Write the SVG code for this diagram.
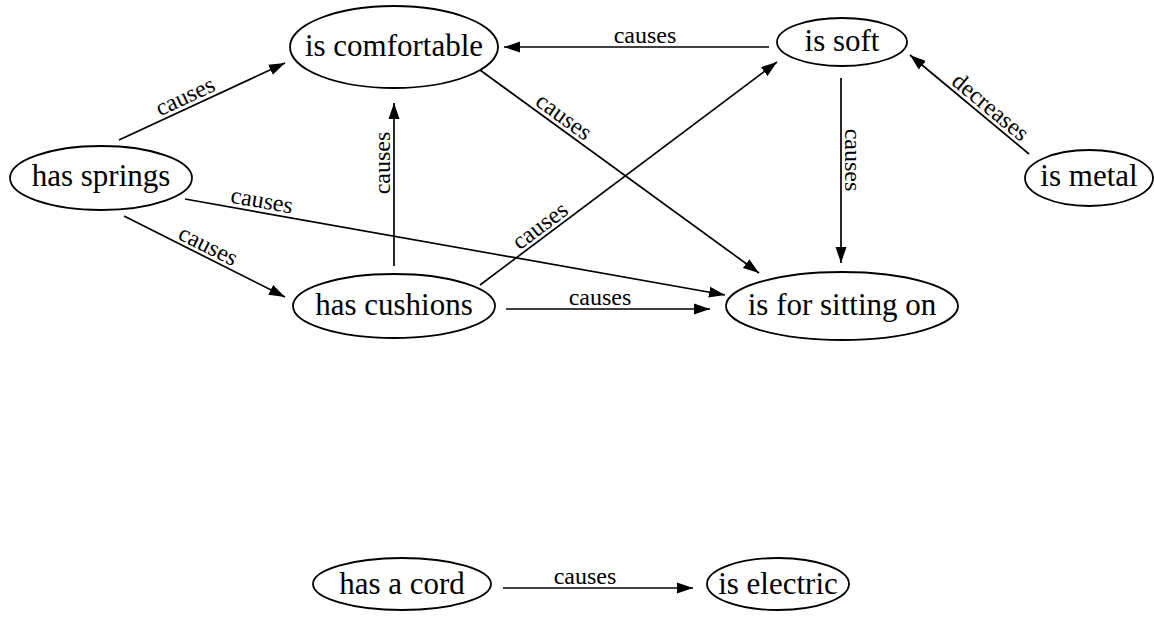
<svg xmlns="http://www.w3.org/2000/svg" width="1154" height="619" viewBox="0 0 1154 619">
<style>
.node ellipse{fill:#fff;stroke:#000;stroke-width:1.8}
.node text{font-family:"Liberation Serif","Times New Roman",serif;font-size:31px;text-anchor:middle;fill:#000}
.edges line{stroke:#000;stroke-width:1.7;marker-end:url(#arr)}
.edges text{font-family:"Liberation Serif","Times New Roman",serif;font-size:24px;text-anchor:middle;fill:#000}
</style>
<defs>
<marker id="arr" markerUnits="userSpaceOnUse" markerWidth="17" markerHeight="12" refX="16" refY="5.5" orient="auto" viewBox="0 0 17 11">
<path d="M0,0 L16,5.5 L0,11 z" fill="#000"/>
</marker>
</defs>
<rect width="1154" height="619" fill="#fff"/>
<g class="edges" id="edges">
<line x1="119" y1="140" x2="285" y2="63"/>
<text transform="translate(190,107) rotate(-24.9)" y="-4">causes</text>
<line x1="185" y1="199" x2="725" y2="295"/>
<text transform="translate(260,212) rotate(10.1)" y="-4">causes</text>
<line x1="124" y1="216" x2="285" y2="297"/>
<text transform="translate(203,256) rotate(26.7)" y="-4">causes</text>
<line x1="394" y1="266" x2="394" y2="103"/>
<text transform="translate(394,163) rotate(-90)" y="-4">causes</text>
<line x1="506" y1="309" x2="710" y2="309"/>
<text transform="translate(600,309)" y="-4">causes</text>
<line x1="480" y1="285" x2="777" y2="62"/>
<text transform="translate(547,235) rotate(-36.9)" y="-4">causes</text>
<line x1="480" y1="70" x2="759" y2="273"/>
<text transform="translate(557,126) rotate(36)" y="-4">causes</text>
<line x1="769" y1="47" x2="504" y2="47"/>
<text transform="translate(645,47)" y="-4">causes</text>
<line x1="841" y1="78" x2="841" y2="263"/>
<text transform="translate(841,160) rotate(90)" y="-4">causes</text>
<line x1="1029" y1="154" x2="910" y2="55"/>
<text transform="translate(983,116) rotate(39.8)" y="-4">decreases</text>
<line x1="503" y1="588" x2="693" y2="588"/>
<text transform="translate(585,588)" y="-4">causes</text>
</g>
<g class="node" id="is_comfortable"><ellipse cx="394" cy="47" rx="104" ry="41"/><text x="394" y="56">is comfortable</text></g>
<g class="node" id="is_soft"><ellipse cx="842" cy="42" rx="65" ry="24"/><text x="842" y="51">is soft</text></g>
<g class="node" id="is_metal"><ellipse cx="1089" cy="178" rx="64" ry="28"/><text x="1089" y="186">is metal</text></g>
<g class="node" id="has_springs"><ellipse cx="101" cy="178" rx="91" ry="32"/><text x="101" y="186">has springs</text></g>
<g class="node" id="has_cushions"><ellipse cx="394" cy="306" rx="101" ry="32"/><text x="394" y="315">has cushions</text></g>
<g class="node" id="is_for_sitting_on"><ellipse cx="842" cy="306" rx="116" ry="34"/><text x="842" y="315">is for sitting on</text></g>
<g class="node" id="has_a_cord"><ellipse cx="402" cy="584" rx="89" ry="26"/><text x="402" y="594">has a cord</text></g>
<g class="node" id="is_electric"><ellipse cx="778" cy="584" rx="71" ry="26"/><text x="778" y="594">is electric</text></g>
</svg>
